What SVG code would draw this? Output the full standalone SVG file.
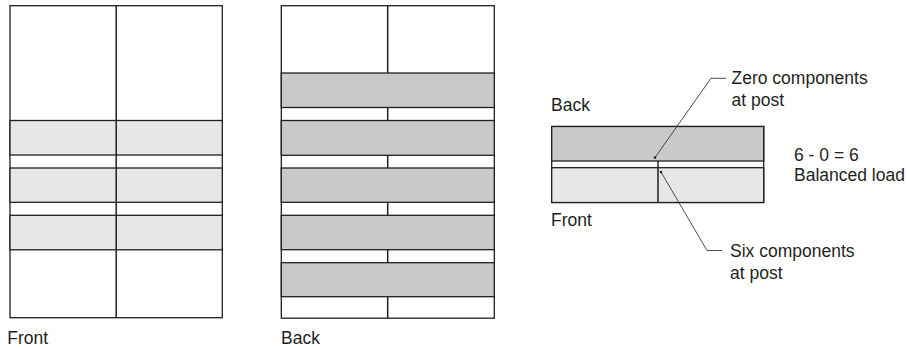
<svg xmlns="http://www.w3.org/2000/svg" width="907" height="349" viewBox="0 0 907 349">
<style>
.frame{fill:#ffffff;stroke:#231f20;stroke-width:1.3}
.lt{fill:#e6e7e8;stroke:#231f20;stroke-width:1.3}
.dk{fill:#c8c9cb;stroke:#231f20;stroke-width:1.3}
.post{stroke:#231f20;stroke-width:1.5;fill:none}
.lead{stroke:#231f20;stroke-width:0.8;fill:none}
.dot{fill:#231f20}
text{font-family:"Liberation Sans",Arial,sans-serif;font-size:17.5px;fill:#231f20}
</style>
<rect width="907" height="349" fill="#ffffff"/>

<g id="front-panel">
  <rect class="frame" x="10" y="5.7" width="212.3" height="312"/>
  <rect class="lt" x="10" y="120.5" width="212.3" height="34.5"/>
  <rect class="lt" x="10" y="168" width="212.3" height="34.3"/>
  <rect class="lt" x="10" y="215.3" width="212.3" height="34.5"/>
  <line class="post" x1="116.2" y1="5.7" x2="116.2" y2="317.7"/>
  <text x="7.3" y="344">Front</text>
</g>

<g id="back-panel">
  <rect class="frame" x="281.3" y="5.7" width="213" height="312.5"/>
  <line class="post" x1="387.7" y1="5.7" x2="387.7" y2="318.2"/>
  <rect class="dk" x="281.3" y="73" width="213" height="34.5"/>
  <rect class="dk" x="281.3" y="120.5" width="213" height="34.8"/>
  <rect class="dk" x="281.3" y="168" width="213" height="34.3"/>
  <rect class="dk" x="281.3" y="215.3" width="213" height="34.4"/>
  <rect class="dk" x="281.3" y="262.7" width="213" height="34"/>
  <text x="281" y="344">Back</text>
</g>

<g id="section-view">
  <rect class="frame" x="551.7" y="126.5" width="212" height="76"/>
  <rect class="dk" x="551.7" y="126.5" width="212" height="34.5"/>
  <rect class="lt" x="551.7" y="167.7" width="212" height="34.8"/>
  <line class="post" x1="658" y1="161" x2="658" y2="202.5"/>
  <text x="551" y="111">Back</text>
  <text x="551" y="226">Front</text>
</g>

<g id="zero-label">
  <text x="731.5" y="84">Zero components</text>
  <text x="731.5" y="106">at post</text>
</g>

<g id="six-label">
  <text x="730" y="257.3">Six components</text>
  <text x="730" y="279.3">at post</text>
</g>

<g id="balance-label">
  <text x="794" y="161">6 - 0 = 6</text>
  <text x="794" y="180.5">Balanced load</text>
</g>

<g id="connectors">
  <polyline class="lead" points="655,157.5 711,78.3 726,78.3"/>
  <circle class="dot" cx="655" cy="157.5" r="1.3"/>
  <polyline class="lead" points="661,172 707,250.5 722,250.5"/>
  <circle class="dot" cx="661" cy="172" r="1.3"/>
</g>
</svg>
